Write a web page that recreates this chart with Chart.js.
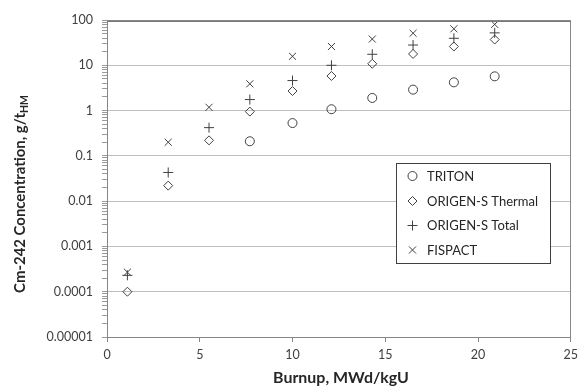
<!DOCTYPE html>
<html>
<head>
<meta charset="utf-8">
<script src="https://cdn.jsdelivr.net/npm/chart.js@4/dist/chart.umd.min.js"></script>
<style>
html,body{margin:0;padding:0;background:#fff;}
#wrap{position:relative;width:583px;height:388px;}
</style>
</head>
<body>
<div id="wrap"><canvas id="c" width="583" height="388"></canvas></div>
<script>
// ---- data ----
const burnup = [1.1, 3.3, 5.5, 7.7, 10.0, 12.1, 14.3, 16.5, 18.7, 20.9];
const triton = [null, null, null, 0.21, 0.53, 1.07, 1.9, 2.9, 4.2, 5.7];
const origenThermal = [1.0e-4, 0.022, 0.22, 0.95, 2.7, 5.8, 10.8, 17.8, 26, 37];
const origenTotal = [2.3e-4, 0.043, 0.42, 1.75, 4.6, 10, 17.5, 28, 39.5, 52];
const fispact = [2.7e-4, 0.20, 1.18, 3.9, 15.8, 26, 38, 51, 64, 80];
const seriesNames = ['TRITON', 'ORIGEN-S Thermal', 'ORIGEN-S Total', 'FISPACT'];
const yDecades = [0.00001, 0.0001, 0.001, 0.01, 0.1, 1, 10, 100];
const yLabels = ['0.00001', '0.0001', '0.001', '0.01', '0.1', '1', '10', '100'];
const xTicks = [0, 5, 10, 15, 20, 25];

const FONT = 'Lato, "Open Sans", sans-serif';
const INK = '#404040';

function pts(vals) {
  const out = [];
  burnup.forEach((b, i) => { if (vals[i] != null) out.push({x: b, y: vals[i]}); });
  return out;
}

const common = {showLine: false, borderColor: INK, backgroundColor: 'transparent', borderWidth: 1, pointBorderWidth: 1};
const datasets = [
  Object.assign({label: seriesNames[0], data: pts(triton), pointStyle: 'circle', pointRadius: 4.5}, common),
  Object.assign({label: seriesNames[1], data: pts(origenThermal), pointStyle: 'rectRot', pointRadius: 4.5}, common),
  Object.assign({label: seriesNames[2], data: pts(origenTotal), pointStyle: 'cross', pointRadius: 5}, common),
  Object.assign({label: seriesNames[3], data: pts(fispact), pointStyle: 'crossRot', pointRadius: 5}, common)
];

function fitSize(ctx, text, weight, target) {
  ctx.font = weight + ' 20px ' + FONT;
  return 20 * target / ctx.measureText(text).width;
}

const decorPlugin = {
  id: 'decor',
  afterDraw(chart) {
    const ctx = chart.ctx, ca = chart.chartArea;
    ctx.save();
    // border top and right
    ctx.strokeStyle = '#868686';
    ctx.lineWidth = 1;
    ctx.beginPath();
    ctx.moveTo(Math.round(ca.left) + 0.5, Math.round(ca.top) + 0.5);
    ctx.lineTo(Math.round(ca.right) - 0.5, Math.round(ca.top) + 0.5);
    ctx.lineTo(Math.round(ca.right) - 0.5, Math.round(ca.bottom) + 0.5);
    ctx.stroke();
    ctx.strokeStyle = '#7a7a7a';
    ctx.beginPath();
    ctx.moveTo(Math.round(ca.left), Math.round(ca.top) + 1.5);
    ctx.lineTo(Math.round(ca.right), Math.round(ca.top) + 1.5);
    ctx.stroke();
    ctx.restore();

    // y axis title with subscript
    ctx.save();
    const main = 'Cm-242 Concentration, g/t';
    const sub = 'HM';
    // fit: main + sub(0.7 size) ~ 198px
    ctx.font = 'bold 20px ' + FONT;
    const w20 = ctx.measureText(main).width;
    ctx.font = 'bold 14px ' + FONT;
    const s20 = ctx.measureText(sub).width;
    const ySize = 20 * 198 / (w20 + s20);
    const subSize = ySize * 0.7;
    ctx.fillStyle = '#262626';
    ctx.font = 'bold ' + ySize + 'px ' + FONT;
    const wMain = ctx.measureText(main).width;
    ctx.font = 'bold ' + subSize + 'px ' + FONT;
    const wSub = ctx.measureText(sub).width;
    const total = wMain + wSub;
    ctx.translate(20.5, 194);
    ctx.rotate(-Math.PI / 2);
    ctx.textBaseline = 'middle';
    ctx.textAlign = 'left';
    ctx.font = 'bold ' + ySize + 'px ' + FONT;
    ctx.fillText(main, -total / 2, 0);
    ctx.font = 'bold ' + subSize + 'px ' + FONT;
    ctx.fillText(sub, -total / 2 + wMain, ySize * 0.3);
    ctx.restore();

    // x axis title
    ctx.save();
    ctx.fillStyle = '#262626';
    const xt = 'Burnup, MWd/kgU';
    const xSize = fitSize(ctx, xt, 'bold', 136);
    ctx.font = 'bold ' + xSize + 'px ' + FONT;
    ctx.textAlign = 'center';
    ctx.textBaseline = 'middle';
    ctx.fillText(xt, 341, 378);
    ctx.restore();

    // legend box
    ctx.save();
    const bx = 396, by = 163, bw = 154, bh = 100;
    ctx.fillStyle = '#fff';
    ctx.fillRect(bx, by, bw, bh);
    ctx.strokeStyle = '#404040';
    ctx.lineWidth = 1;
    ctx.strokeRect(bx + 0.5, by + 0.5, bw, bh);
    const rows = [176, 201, 225.5, 250];
    const lSize = fitSize(ctx, 'ORIGEN-S Thermal', 'normal', 111);
    ctx.font = lSize + 'px ' + FONT;
    ctx.textBaseline = 'middle';
    ctx.textAlign = 'left';
    chart.data.datasets.forEach((ds, i) => {
      ctx.strokeStyle = INK;
      ctx.fillStyle = 'transparent';
      ctx.lineWidth = 1;
      Chart.helpers.drawPoint(ctx, {pointStyle: ds.pointStyle, radius: ds.pointRadius, borderWidth: 1}, 412.5, rows[i]);
      ctx.fillStyle = '#262626';
      ctx.fillText(ds.label, 427, rows[i] + 0.5);
    });
    ctx.restore();
  }
};

new Chart(document.getElementById('c'), {
  type: 'scatter',
  data: {datasets},
  plugins: [decorPlugin],
  options: {
    responsive: false,
    animation: false,
    layout: {padding: {left: 0, right: 7, top: 20, bottom: 0}},
    plugins: {legend: {display: false}, tooltip: {enabled: false}},
    scales: {
      x: {
        type: 'linear', min: 0, max: 25,
        afterBuildTicks(s) { s.ticks = xTicks.map(v => ({value: v})); },
        afterFit(s) { s.height = 51; },
        border: {color: '#868686', width: 1},
        grid: {drawOnChartArea: false, tickLength: 5, color: '#868686'},
        ticks: {color: '#404040', font: {family: FONT, size: 12.5}, padding: 5, maxRotation: 0}
      },
      y: {
        type: 'logarithmic', min: 0.00001, max: 100,
        afterBuildTicks(s) {
          const t = [];
          yDecades.forEach((d, i) => {
            if (i === yDecades.length - 1) { t.push({value: d, major: true}); return; }
            for (let k = 1; k <= 9; k++) t.push({value: d * k, major: k === 1});
          });
          s.ticks = t;
        },
        afterFit(s) { s.width = 107; },
        border: {color: '#868686', width: 1},
        grid: {
          tickLength: 5,
          color(c) { return (c.tick && c.tick.major) ? '#bfbfbf' : 'rgba(0,0,0,0)'; },
          tickColor: '#9a9a9a'
        },
        ticks: {
          autoSkip: false,
          color: '#404040', font: {family: FONT, size: 12.5}, padding: 9,
          callback(v) {
            const idx = yDecades.findIndex(d => Math.abs(d - v) / d < 1e-6);
            return idx >= 0 ? yLabels[idx] : '';
          }
        }
      }
    }
  }
});
</script>
</body>
</html>
